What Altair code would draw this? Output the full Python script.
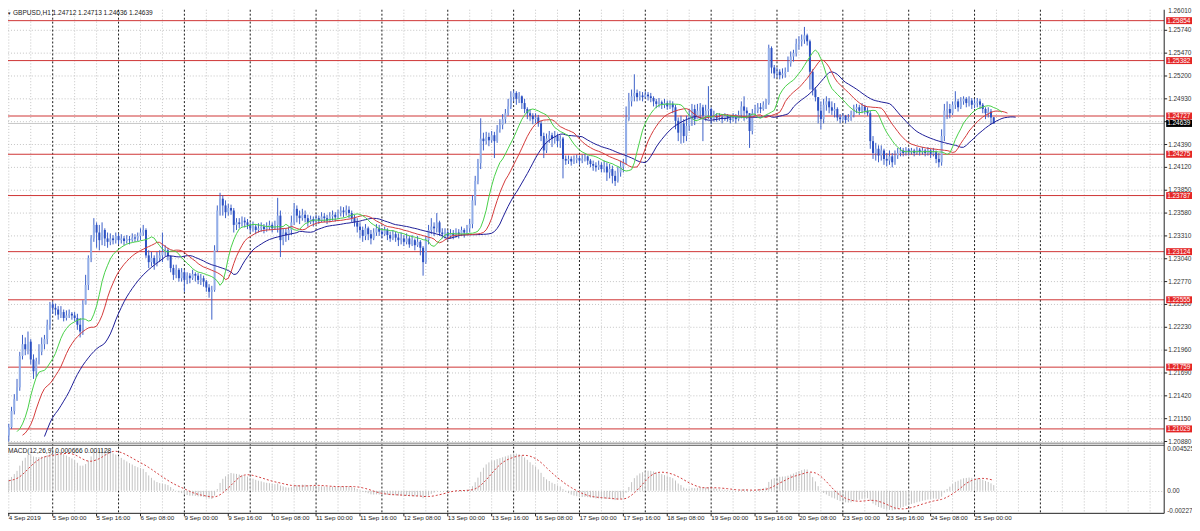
import altair as alt
import numpy as np
import pandas as pd

# ---------------- data (price values given in pips above 1.20000) ----------------
BASE = 1.2
OPEN_FIRST_PIPS = 95
LAST_OPEN = 1.24712

CLOSE_PIPS = [
    105, 124, 138, 152, 189, 203, 197, 206, 185, 171,
    183, 194, 203, 209, 226, 250, 246, 244, 238, 241,
    234, 237, 239, 237, 234, 226, 218, 250, 273, 305,
    328, 344, 335, 326, 338, 328, 324, 328, 326, 331,
    326, 328, 325, 327, 326, 329, 328, 331, 335, 338,
    308, 300, 305, 298, 305, 308, 312, 314, 307, 293,
    285, 291, 281, 288, 279, 284, 281, 286, 284, 279,
    281, 277, 270, 265, 267, 314, 361, 375, 367, 359,
    364, 361, 344, 347, 345, 349, 347, 344, 340, 342,
    338, 340, 342, 339, 341, 344, 340, 344, 355, 326,
    335, 332, 338, 347, 363, 355, 352, 356, 352, 347,
    351, 348, 352, 349, 354, 352, 349, 354, 356, 353,
    358, 361, 359, 362, 358, 352, 347, 342, 338, 331,
    340, 333, 328, 335, 340, 336, 333, 338, 332, 328,
    333, 329, 326, 328, 324, 328, 321, 326, 320, 324,
    317, 300, 326, 338, 342, 340, 347, 335, 333, 335,
    331, 334, 332, 335, 333, 338, 335, 340, 345, 373,
    396, 417, 446, 443, 448, 444, 450, 443, 457, 462,
    469, 476, 484, 495, 500, 493, 496, 488, 481, 476,
    473, 469, 471, 464, 449, 432, 446, 450, 446, 449,
    443, 446, 422, 420, 422, 419, 421, 423, 420, 422,
    425, 420, 416, 414, 412, 415, 410, 413, 406, 410,
    402, 396, 406, 413, 417, 469, 490, 496, 500, 495,
    497, 495, 498, 496, 494, 490, 487, 489, 486, 488,
    484, 487, 483, 467, 453, 464, 449, 461, 473, 481,
    469, 479, 483, 473, 479, 481, 469, 473, 470, 471,
    469, 473, 470, 468, 471, 469, 474, 484, 479, 476,
    455, 476, 479, 483, 481, 486, 488, 553, 530, 523,
    525, 521, 523, 525, 535, 543, 547, 558, 561, 563,
    568, 561, 525, 504, 495, 479, 469, 486, 490, 483,
    479, 481, 471, 469, 473, 468, 470, 474, 481, 483,
    479, 484, 479, 476, 443, 429, 434, 426, 432, 422,
    420, 425, 418, 426, 429, 432, 429, 433, 430, 432,
    429, 433, 430, 432, 429, 432, 428, 430, 422, 418,
    449, 479, 481, 476, 486, 490, 483, 490, 493, 488,
    491, 486, 488, 490, 486, 481, 476, 478, 471, 463.9,
]

HIGH_PIPS = [
    109, 129, 144, 162, 194, 214, 211, 218, 209, 191,
    187, 203, 211, 214, 232, 253, 253, 251, 248, 248,
    244, 243, 244, 241, 241, 239, 234, 255, 285, 308,
    332, 352, 347, 344, 347, 340, 335, 334, 332, 335,
    334, 333, 331, 332, 331, 334, 333, 335, 340, 344,
    340, 314, 312, 308, 312, 314, 335, 320, 317, 308,
    297, 297, 293, 293, 291, 288, 287, 291, 288, 287,
    286, 284, 279, 274, 272, 320, 367, 382, 379, 373,
    369, 368, 364, 352, 352, 354, 353, 351, 347, 348,
    345, 346, 347, 345, 347, 349, 347, 349, 376, 361,
    340, 340, 342, 355, 370, 367, 361, 363, 361, 356,
    355, 354, 356, 355, 359, 358, 356, 359, 361, 359,
    362, 366, 365, 367, 366, 361, 356, 352, 347, 342,
    345, 342, 338, 340, 345, 344, 340, 342, 340, 336,
    338, 336, 334, 335, 332, 334, 331, 332, 328, 331,
    326, 319, 331, 344, 352, 347, 358, 349, 340, 340,
    338, 339, 338, 340, 339, 342, 340, 344, 351, 379,
    402, 422, 470, 453, 454, 453, 455, 454, 462, 469,
    475, 481, 493, 502, 503, 502, 501, 497, 493, 483,
    481, 476, 476, 474, 467, 453, 452, 455, 453, 455,
    452, 450, 448, 426, 426, 425, 426, 427, 426, 427,
    428, 426, 422, 420, 418, 420, 418, 420, 418, 416,
    414, 408, 413, 420, 422, 484, 500, 504, 522, 504,
    502, 501, 502, 501, 500, 496, 493, 494, 491, 493,
    491, 491, 490, 486, 471, 473, 469, 473, 481, 487,
    486, 487, 488, 486, 486, 508, 483, 479, 476, 476,
    475, 476, 475, 474, 476, 475, 479, 490, 496, 483,
    476, 481, 486, 488, 488, 490, 493, 557, 555, 533,
    530, 528, 529, 530, 543, 549, 551, 564, 567, 569,
    578, 570, 563, 528, 507, 495, 490, 493, 496, 494,
    490, 488, 483, 475, 476, 474, 475, 479, 486, 487,
    486, 488, 486, 483, 479, 449, 441, 438, 438, 434,
    429, 432, 429, 432, 435, 436, 435, 436, 435, 435,
    434, 436, 435, 436, 434, 436, 434, 435, 432, 429,
    457, 487, 490, 487, 490, 502, 493, 495, 496, 495,
    496, 494, 493, 494, 493, 488, 483, 483, 481, 471.3,
]

LOW_PIPS = [
    88, 103, 120, 136, 148, 185, 190, 191, 179, 162,
    164, 179, 190, 197, 203, 220, 239, 237, 232, 234,
    230, 231, 234, 232, 230, 220, 211, 214, 250, 267,
    300, 324, 317, 314, 320, 319, 317, 320, 321, 322,
    321, 322, 320, 322, 321, 324, 324, 325, 326, 331,
    305, 293, 295, 291, 295, 300, 300, 307, 302, 288,
    279, 281, 277, 277, 265, 274, 275, 279, 277, 274,
    273, 271, 265, 258, 232, 265, 312, 355, 355, 352,
    355, 356, 335, 338, 340, 342, 341, 339, 335, 336,
    333, 335, 336, 334, 336, 338, 335, 338, 335, 306,
    320, 324, 326, 332, 344, 347, 345, 349, 347, 342,
    345, 342, 345, 345, 347, 347, 345, 347, 349, 348,
    351, 354, 353, 355, 352, 347, 342, 335, 328, 324,
    326, 326, 321, 326, 331, 331, 328, 331, 326, 324,
    326, 324, 319, 321, 319, 321, 317, 319, 314, 318,
    308, 284, 298, 321, 333, 331, 335, 331, 328, 328,
    326, 328, 327, 329, 328, 331, 329, 333, 335, 340,
    367, 392, 410, 432, 439, 437, 441, 423, 441, 453,
    457, 464, 473, 481, 490, 486, 488, 481, 476, 469,
    467, 463, 464, 460, 443, 423, 429, 441, 436, 440,
    436, 435, 399, 415, 416, 414, 416, 417, 415, 417,
    419, 415, 412, 408, 407, 409, 406, 406, 396, 399,
    393, 390, 394, 401, 406, 415, 467, 484, 490, 490,
    491, 490, 493, 491, 489, 484, 482, 483, 481, 482,
    480, 481, 476, 457, 443, 440, 441, 443, 455, 461,
    462, 469, 469, 443, 467, 469, 463, 466, 466, 467,
    464, 467, 466, 464, 466, 464, 467, 470, 467, 469,
    435, 451, 473, 476, 476, 479, 481, 486, 523, 517,
    518, 516, 517, 518, 525, 531, 537, 543, 551, 555,
    558, 556, 504, 497, 490, 464, 457, 464, 479, 476,
    474, 471, 467, 464, 466, 464, 466, 467, 471, 476,
    474, 476, 475, 473, 434, 422, 420, 418, 420, 415,
    413, 415, 412, 415, 422, 425, 425, 426, 426, 427,
    425, 427, 426, 427, 425, 426, 423, 425, 417, 412,
    414, 443, 469, 470, 474, 481, 478, 481, 486, 483,
    484, 481, 482, 483, 481, 476, 469, 471, 463, 463.6,
]

LEVELS = [1.25854, 1.25382, 1.24727, 1.24275, 1.23787, 1.23124, 1.22555, 1.21759, 1.21029]
BID = 1.24639
PRICE_TICKS = [1.26010, 1.25740, 1.25470, 1.25200, 1.24930, 1.24660, 1.24390, 1.24120,
               1.23850, 1.23580, 1.23310, 1.23040, 1.22770, 1.22500, 1.22230, 1.21960,
               1.21690, 1.21420, 1.21150, 1.20880]
DATE_BARS = [0, 16, 32, 48, 64, 80, 96, 112, 128, 144, 160, 176, 192, 208, 224, 240,
             256, 272, 288, 304, 320, 336, 352]
DATE_TEXT = ["4 Sep 2019", "5 Sep 00:00", "5 Sep 16:00", "6 Sep 08:00", "9 Sep 00:00",
             "9 Sep 16:00", "10 Sep 08:00", "11 Sep 00:00", "11 Sep 16:00", "12 Sep 08:00",
             "13 Sep 00:00", "13 Sep 16:00", "16 Sep 08:00", "17 Sep 00:00", "17 Sep 16:00",
             "18 Sep 08:00", "19 Sep 00:00", "19 Sep 16:00", "20 Sep 08:00", "23 Sep 00:00",
             "23 Sep 16:00", "24 Sep 08:00", "25 Sep 00:00"]
DAY_STARTS = [16, 40, 64, 88, 112, 136, 160, 184, 208, 232, 256, 280, 304, 328, 352, 376]
MACD_TICK_VALUES = [0.004525, 0.0, -0.00227]
MACD_TICK_TEXT = ["0.004525", "0.00", "-0.00227"]
TITLE = "GBPUSD,H1  1.24712 1.24713 1.24636 1.24639"
MACD_TITLE = "MACD(12,26,9) 0.000666 0.001128"
# indicator states just before the first bar
LIPS0, TEETH0, JAW0 = 1.2100, 1.2095, 1.2060
EMA12_0, EMA26_0 = 1.2078, 1.2068

# ---------------- derived series ----------------
n = len(CLOSE_PIPS)
assert len(HIGH_PIPS) == n and len(LOW_PIPS) == n
close = BASE + np.array(CLOSE_PIPS, float) / 1e4
high = BASE + np.array(HIGH_PIPS, float) / 1e4
low = BASE + np.array(LOW_PIPS, float) / 1e4
opn = np.concatenate([[BASE + OPEN_FIRST_PIPS / 1e4], close[:-1]])
opn[-1] = LAST_OPEN
high = np.maximum.reduce([high, opn, close])
low = np.minimum.reduce([low, opn, close])
idx = np.arange(n)

candles = pd.DataFrame({"i": idx, "o": opn, "h": high, "l": low, "c": close,
                        "up": close >= opn})

med = (high + low) / 2


def smma(x, period, s0):
    out, s = [], s0
    for v in x:
        s = (s * (period - 1) + v) / period
        out.append(s)
    return np.array(out)


def ema(x, period, s0):
    a = 2.0 / (period + 1)
    out, s = [], s0
    for v in x:
        s = s + a * (v - s)
        out.append(s)
    return np.array(out)


P_MIN, P_MAX = 1.2088, 1.2601
alli = []
for name, per, shift, s0 in [("jaw", 13, 8, JAW0), ("teeth", 8, 5, TEETH0), ("lips", 5, 3, LIPS0)]:
    v = smma(med, per, s0)
    df = pd.DataFrame({"i": idx + shift, "v": v})
    df = df[df.v >= P_MIN - 0.0001]
    alli.append(df)

macd = ema(close, 12, EMA12_0) - ema(close, 26, EMA26_0)
ext = np.concatenate([np.full(8, EMA12_0 - EMA26_0), macd])
signal = np.convolve(ext, np.ones(9) / 9, mode="valid")
macd_df = pd.DataFrame({"i": idx, "m": macd, "s": signal, "z": 0.0})

# ---------------- layout ----------------
W, H = 1192, 518
AX = 1164          # right axis line (plot coords)
MACD_TOP, MACD_BOT = 439, 507
FONT = "Liberation Sans"

XS = alt.Scale(domain=[0, 359], range=[0.8, 992.4], nice=False, zero=False)
YP = alt.Scale(domain=[1.2088, 1.2601], range=[434.7, -2.3], nice=False, zero=False)
YM = alt.Scale(domain=[-0.00227, 0.004525], range=[MACD_BOT, MACD_TOP], nice=False, zero=False)

X = lambda f: alt.X(f, type="quantitative", scale=XS, axis=None)
YPr = lambda f: alt.Y(f, type="quantitative", scale=YP, axis=None)
YMa = lambda f: alt.Y(f, type="quantitative", scale=YM, axis=None)

one = pd.DataFrame({"k": [0]})

grid_grey = pd.DataFrame({"i": [b for b in range(0, 424, 8) if b not in DAY_STARTS]})
grid_black = pd.DataFrame({"i": DAY_STARTS})
ticks_df = pd.DataFrame({"p": PRICE_TICKS, "t": [f"{p:.5f}" for p in PRICE_TICKS]})
levels_df = pd.DataFrame({"p": LEVELS, "t": [f"{p:.5f}" for p in LEVELS]})
bid_df = pd.DataFrame({"p": [BID], "t": [f"{BID:.5f}"]})
dates_df = pd.DataFrame({"i": DATE_BARS, "t": DATE_TEXT})
mt_df = pd.DataFrame({"v": MACD_TICK_VALUES, "t": MACD_TICK_TEXT, "dy": [3, 0, -2]})

layers = []
# grids
layers.append(alt.Chart(grid_grey).mark_rule(color="#c4c4c4", strokeWidth=1, strokeDash=[1, 2]).encode(
    x=X("i"), y=alt.value(0), y2=alt.value(MACD_BOT)))
layers.append(alt.Chart(ticks_df).mark_rule(color="#c4c4c4", strokeWidth=1, strokeDash=[1, 2]).encode(
    y=YPr("p"), x=alt.value(0), x2=alt.value(AX)))
layers.append(alt.Chart(one).mark_rule(color="#c4c4c4", strokeWidth=1, strokeDash=[1, 2]).encode(
    y=alt.value(485), x=alt.value(0), x2=alt.value(AX)))
layers.append(alt.Chart(grid_black).mark_rule(color="#1a1a1a", strokeWidth=1, strokeDash=[2, 2]).encode(
    x=X("i"), y=alt.value(0), y2=alt.value(MACD_BOT)))
# bid line and levels
layers.append(alt.Chart(bid_df).mark_rule(color="#c8c8c8", strokeWidth=1).encode(
    y=YPr("p"), x=alt.value(0), x2=alt.value(AX)))
layers.append(alt.Chart(levels_df).mark_rule(color="#cf3434", strokeWidth=1).encode(
    y=YPr("p"), x=alt.value(0), x2=alt.value(AX)))
# MACD
layers.append(alt.Chart(macd_df).mark_rule(color="#c2c2c2", strokeWidth=1).encode(
    x=X("i"), y=YMa("z"), y2="m"))
layers.append(alt.Chart(macd_df).mark_line(color="#d23c3c", strokeWidth=1, strokeDash=[2, 2]).encode(
    x=X("i"), y=YMa("s")))
# candles
layers.append(alt.Chart(candles).mark_rule(color="#3c60c8", strokeWidth=1).encode(
    x=X("i"), y=YPr("l"), y2="h"))
layers.append(alt.Chart(candles).mark_rule(strokeWidth=2).encode(
    x=X("i"), y=YPr("o"), y2="c",
    color=alt.condition(alt.datum.up, alt.value("#93aee8"), alt.value("#2c50c2"))))
# alligator
for df, col in zip(alli, ["#1c1c96", "#d43a3a", "#48d048"]):
    layers.append(alt.Chart(df).mark_line(color=col, strokeWidth=1).encode(x=X("i"), y=YPr("v")))
# frame
layers.append(alt.Chart(one).mark_rule(color="#a8a8a8", strokeWidth=1.5).encode(
    y=alt.value(436.5), x=alt.value(0), x2=alt.value(AX)))
layers.append(alt.Chart(one).mark_rule(color="#555555", strokeWidth=1).encode(
    y=alt.value(438.5), x=alt.value(0), x2=alt.value(AX)))
layers.append(alt.Chart(one).mark_rule(color="#222222", strokeWidth=1).encode(
    x=alt.value(AX), y=alt.value(0), y2=alt.value(MACD_BOT)))
layers.append(alt.Chart(one).mark_rule(color="#222222", strokeWidth=1).encode(
    y=alt.value(MACD_BOT), x=alt.value(0), x2=alt.value(AX)))
# right price axis
layers.append(alt.Chart(ticks_df).mark_rule(color="#222222", strokeWidth=1).encode(
    y=YPr("p"), x=alt.value(AX), x2=alt.value(AX + 3)))
layers.append(alt.Chart(ticks_df.iloc[1:]).mark_text(align="left", baseline="middle", font=FONT, fontSize=6.5,
                                                     color="#333333").encode(
    y=YPr("p"), x=alt.value(AX + 4), text="t:N"))
layers.append(alt.Chart(ticks_df.iloc[:1]).mark_text(align="left", baseline="middle", font=FONT, fontSize=6.5,
                                                     color="#333333", dy=4).encode(
    y=YPr("p"), x=alt.value(AX + 4), text="t:N"))
layers.append(alt.Chart(levels_df).mark_rule(color="#e42626", strokeWidth=7).encode(
    y=YPr("p"), x=alt.value(AX + 2), x2=alt.value(W)))
layers.append(alt.Chart(levels_df).mark_text(align="left", baseline="middle", font=FONT, fontSize=6.5,
                                             color="white").encode(
    y=YPr("p"), x=alt.value(AX + 3), text="t:N"))
layers.append(alt.Chart(bid_df).mark_rule(color="#000000", strokeWidth=7).encode(
    y=YPr("p"), x=alt.value(AX + 2), x2=alt.value(W)))
layers.append(alt.Chart(bid_df).mark_text(align="left", baseline="middle", font=FONT, fontSize=6.5,
                                          color="white").encode(
    y=YPr("p"), x=alt.value(AX + 3), text="t:N"))
# MACD axis
for k in range(3):
    sub = mt_df.iloc[[k]]
    layers.append(alt.Chart(sub).mark_text(align="left", baseline="middle", font=FONT, fontSize=6.5,
                                           color="#333333", dy=float(sub.dy.iloc[0])).encode(
        y=YMa("v"), x=alt.value(AX + 3), text="t:N"))
# time axis
layers.append(alt.Chart(dates_df).mark_rule(color="#222222", strokeWidth=1).encode(
    x=X("i"), y=alt.value(MACD_BOT), y2=alt.value(MACD_BOT + 3)))
layers.append(alt.Chart(dates_df).mark_text(align="left", baseline="middle", font=FONT, fontSize=6.3,
                                            color="#222222", dx=0).encode(
    x=X("i"), y=alt.value(512), text="t:N"))
# captions
layers.append(alt.Chart(pd.DataFrame({"t": [TITLE]})).mark_text(
    align="left", baseline="top", font=FONT, fontSize=6.6, color="#222222").encode(
    x=alt.value(5), y=alt.value(0.5), text="t:N"))
layers.append(alt.Chart(pd.DataFrame({"t": ["\u25BC"]})).mark_text(
    align="left", baseline="top", font=FONT, fontSize=4.5, color="#222222").encode(
    x=alt.value(-1), y=alt.value(1.5), text="t:N"))
layers.append(alt.Chart(pd.DataFrame({"t": [MACD_TITLE]})).mark_text(
    align="left", baseline="middle", font=FONT, fontSize=6.6, color="#222222").encode(
    x=alt.value(0), y=alt.value(444), text="t:N"))

chart = alt.layer(*layers).resolve_scale(y="independent").properties(
    width=W, height=H, autosize=alt.AutoSizeParams(type="none"), padding=0,
    background="white"
).configure_view(stroke=None)

chart.save("out.html", embed_options={"renderer": "svg", "actions": False})
